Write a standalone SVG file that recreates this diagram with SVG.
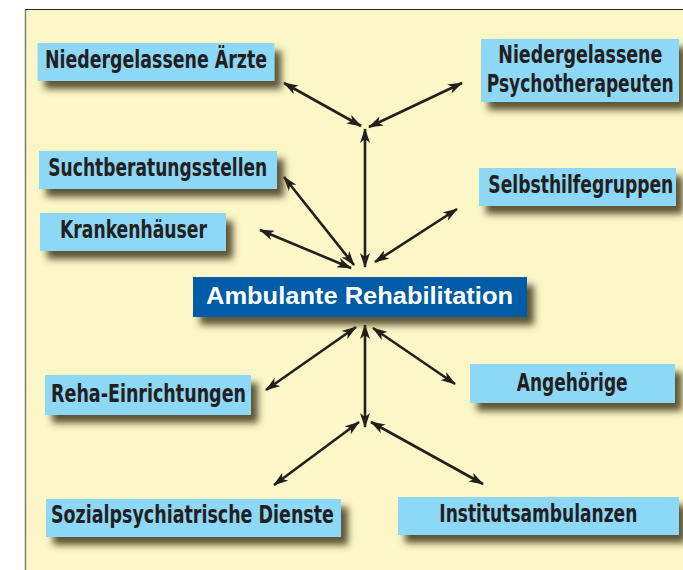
<svg xmlns="http://www.w3.org/2000/svg" width="683" height="570" viewBox="0 0 683 570">
  <defs>
    <filter id="sh" x="-10%" y="-30%" width="125%" height="180%">
      <feGaussianBlur in="SourceAlpha" stdDeviation="3.5"/>
      <feOffset dx="7" dy="8" result="b"/>
      <feFlood flood-color="#463e22" flood-opacity="0.88"/>
      <feComposite in2="b" operator="in"/>
      <feMerge><feMergeNode/><feMergeNode in="SourceGraphic"/></feMerge>
    </filter>
    <marker id="ah" viewBox="0 0 15 10" refX="14" refY="5" markerWidth="15" markerHeight="10" markerUnits="userSpaceOnUse" orient="auto-start-reverse">
      <path d="M0,0 L15,5 L0,10 L4,5 Z" fill="#231f20"/>
    </marker>
    <style>
      .box{fill:#8dd7f7;filter:url(#sh)}
      .lbl{font-family:"Liberation Sans Narrow","DejaVu Sans Condensed","Roboto Condensed",sans-serif;font-weight:bold;font-size:24px;fill:#231f20;text-anchor:middle}
      .main{font-family:"Liberation Sans",Arial,sans-serif;font-weight:bold;font-size:23px;fill:#ffffff;text-anchor:middle}
      .ar{stroke:#231f20;stroke-width:2.6;fill:none;marker-start:url(#ah);marker-end:url(#ah)}
    </style>
  </defs>

  <rect x="0" y="0" width="683" height="570" fill="#ffffff"/>
  <rect x="25.5" y="9.5" width="660" height="565" fill="#fdf7c7"/>
  <line x1="25.5" y1="9.5" x2="25.5" y2="570" stroke="#807c70" stroke-width="1.5"/>
  <line x1="25" y1="9.5" x2="683" y2="9.5" stroke="#2a2a2a" stroke-width="1.2"/>

  <g id="connectors">
    <path class="ar" d="M284,83 L361,126"/>
    <path class="ar" d="M462,83 L369,127"/>
    <path class="ar" d="M365,129 L365,267"/>
    <path class="ar" d="M284,177 L354,265"/>
    <path class="ar" d="M260,230 L351,268"/>
    <path class="ar" d="M457,209 L375,262"/>
    <path class="ar" d="M356,327 L266,390"/>
    <path class="ar" d="M365,325 L365,427"/>
    <path class="ar" d="M373,328 L455,384"/>
    <path class="ar" d="M359,422 L274,485"/>
    <path class="ar" d="M371,422 L483,484"/>
  </g>

  <g id="aerzte">
    <rect class="box" x="37.5" y="43" width="237" height="38"/>
    <text class="lbl" transform="translate(156,67.7) scale(0.8,1)" textLength="277.5" lengthAdjust="spacingAndGlyphs">Niedergelassene Ärzte</text>
  </g>
  <g id="psychotherapeuten">
    <rect class="box" x="481" y="39" width="198" height="63"/>
    <text class="lbl" transform="translate(580.3,63.3) scale(0.8,1)" textLength="205" lengthAdjust="spacingAndGlyphs">Niedergelassene</text>
    <text class="lbl" transform="translate(580.2,91.7) scale(0.8,1)" textLength="233.7" lengthAdjust="spacingAndGlyphs">Psychotherapeuten</text>
  </g>
  <g id="sucht">
    <rect class="box" x="39" y="151" width="238" height="38"/>
    <text class="lbl" transform="translate(157.8,176) scale(0.8,1)" textLength="273.7" lengthAdjust="spacingAndGlyphs">Suchtberatungsstellen</text>
  </g>
  <g id="kranken">
    <rect class="box" x="40" y="213" width="186" height="38"/>
    <text class="lbl" transform="translate(133.5,238.3) scale(0.8,1)" textLength="183.7" lengthAdjust="spacingAndGlyphs">Krankenhäuser</text>
  </g>
  <g id="selbsthilfe">
    <rect class="box" x="479" y="168" width="197" height="38"/>
    <text class="lbl" transform="translate(580.8,193.3) scale(0.8,1)" textLength="231.2" lengthAdjust="spacingAndGlyphs">Selbsthilfegruppen</text>
  </g>
  <g id="ambulante">
    <rect x="193" y="277" width="334" height="40" fill="#005ba6" filter="url(#sh)"/>
    <text class="main" x="359.5" y="303.5" textLength="307" lengthAdjust="spacingAndGlyphs">Ambulante Rehabilitation</text>
  </g>
  <g id="reha">
    <rect class="box" x="45" y="375" width="206" height="40"/>
    <text class="lbl" transform="translate(148.5,401.7) scale(0.8,1)" textLength="243.7" lengthAdjust="spacingAndGlyphs">Reha-Einrichtungen</text>
  </g>
  <g id="angehoerige">
    <rect class="box" x="470" y="364" width="205" height="39"/>
    <text class="lbl" transform="translate(572.2,390.7) scale(0.8,1)" textLength="138.7" lengthAdjust="spacingAndGlyphs">Angehörige</text>
  </g>
  <g id="sozial">
    <rect class="box" x="46" y="499" width="295" height="38"/>
    <text class="lbl" transform="translate(192.5,522.7) scale(0.8,1)" textLength="353.7" lengthAdjust="spacingAndGlyphs">Sozialpsychiatrische Dienste</text>
  </g>
  <g id="institut">
    <rect class="box" x="398" y="497" width="281" height="38"/>
    <text class="lbl" transform="translate(538.3,522) scale(0.8,1)" textLength="247.5" lengthAdjust="spacingAndGlyphs">Institutsambulanzen</text>
  </g>
</svg>
